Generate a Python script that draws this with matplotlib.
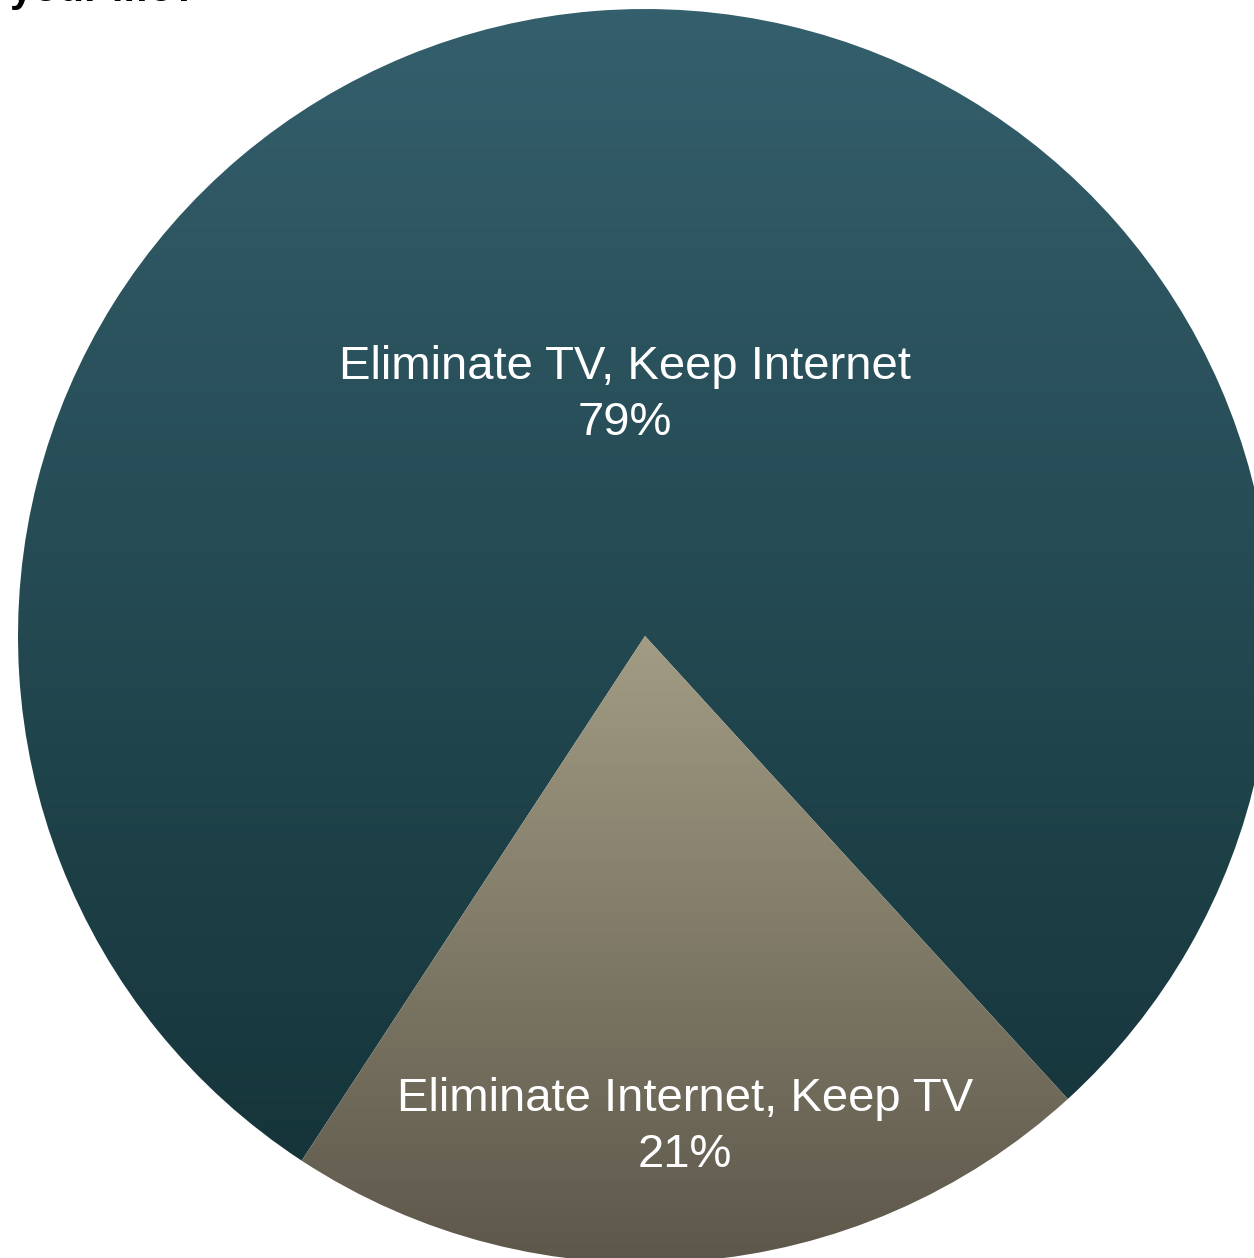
import numpy as np
import matplotlib.pyplot as plt
from matplotlib.colors import LinearSegmentedColormap

labels = ['Eliminate TV, Keep Internet', 'Eliminate Internet, Keep TV']
shares = [79, 21]
top_colors = ['#345f6c', '#a29c84']
bottom_colors = ['#15353a', '#5b5649']

W, H = 1254, 1258
cx, cy, R = 645, 636, 627

fig = plt.figure(figsize=(W / 100, H / 100), dpi=100)
ax = fig.add_axes([0, 0, 1, 1])

wedges, _ = ax.pie(shares, startangle=312.4, radius=1.0,
                   wedgeprops=dict(linewidth=0))

# vertical gradient fill per wedge
for w, c0, c1 in zip(wedges, top_colors, bottom_colors):
    w.set_facecolor('none')
    verts = w.get_path().vertices
    y0, y1 = verts[:, 1].min(), verts[:, 1].max()
    cmap = LinearSegmentedColormap.from_list('g', [c1, c0])
    grad = np.linspace(0, 1, 256).reshape(-1, 1)
    im = ax.imshow(grad, cmap=cmap, origin='lower', aspect='auto',
                   extent=[-1, 1, y0, y1], zorder=1, interpolation='bilinear')
    im.set_clip_path(w)

ax.text((625 - cx) / R, (cy - 395) / R, labels[0] + '\n' + f'{shares[0]}%',
        color='white', ha='center', va='center', fontsize=34,
        family='Liberation Sans', linespacing=1.38, zorder=3)
ax.text((685 - cx) / R, (cy - 1127) / R, labels[1] + '\n' + f'{shares[1]}%',
        color='white', ha='center', va='center', fontsize=34,
        family='Liberation Sans', linespacing=1.38, zorder=3)

# title, cut off at the top edge as in the source
fig.text(10 / W, 1.0 - 1 / H, 'your life?', fontsize=30, fontweight='bold',
         family='Liberation Sans', ha='left', va='baseline', color='black')

ax.set_xlim(-cx / R, (W - cx) / R)
ax.set_ylim((cy - H) / R, cy / R)
ax.set_aspect('auto')
ax.axis('off')

fig.savefig('out.png', dpi=100)
